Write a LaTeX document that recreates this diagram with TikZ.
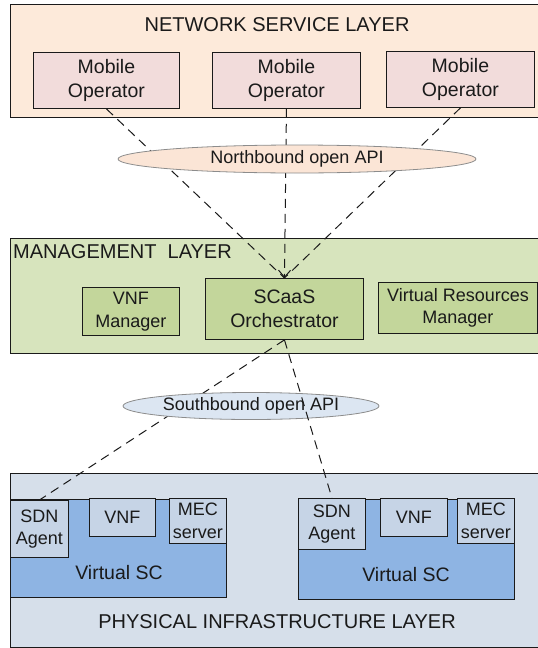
\documentclass[tikz,border=0pt]{standalone}
\usepackage{fontspec}
\setmainfont{Liberation Sans}
\usetikzlibrary{shapes.geometric,arrows.meta}
\definecolor{netfill}{HTML}{FDEADA}
\definecolor{mofill}{HTML}{F2DCDB}
\definecolor{nbfill}{HTML}{FBE5D6}
\definecolor{mgmtfill}{HTML}{D7E4BD}
\definecolor{mgmtbox}{HTML}{C3D69B}
\definecolor{sbfill}{HTML}{DCE6F2}
\definecolor{physfill}{HTML}{D6DFEA}
\definecolor{vscfill}{HTML}{8EB4E3}
\definecolor{compfill}{HTML}{C6D4E6}
\definecolor{ink}{HTML}{1A1A1A}
\begin{document}
\begin{tikzpicture}[x=1pt,y=-1pt,
  layer/.style={draw=ink, line width=1pt, anchor=north west, inner sep=0pt},
  box/.style={draw=ink, line width=0.9pt, anchor=north west, inner sep=0pt, align=center,
    font=\fontsize{18}{22.5}\selectfont, text=ink},
  bigbox/.style={box, font=\fontsize{19.5}{23.5}\selectfont},
  ltitle/.style={font=\fontsize{20}{24}\selectfont, inner sep=0pt, text=ink},
  api/.style={ellipse, draw=black!45, line width=0.8pt, inner sep=0pt,
    font=\fontsize{18}{22}\selectfont, text=ink},
  link/.style={dash pattern=on 9pt off 6pt, line width=1pt, draw=ink}]
\useasboundingbox (0,0) rectangle (538,648);
\clip (0,0) rectangle (538,648);

% layers
\node[layer, fill=netfill, minimum width=540pt, minimum height=113pt] (net) at (10,4) {};
\node[layer, fill=mgmtfill, minimum width=540pt, minimum height=115pt] (mgmt) at (10,238) {};
\node[layer, fill=physfill, minimum width=540pt, minimum height=174pt] (phys) at (10,473) {};

\node[ltitle] (nettitle) at (277,25) {NETWORK SERVICE LAYER};
\node[ltitle, anchor=west] (mgmttitle) at (13,252) {MANAGEMENT\ \ LAYER};
\node[ltitle] (phystitle) at (277,622) {PHYSICAL INFRASTRUCTURE LAYER};

% network service layer boxes
\node[bigbox, fill=mofill, minimum width=146pt, minimum height=56pt] (mo1) at (33,52) {Mobile\\Operator};
\node[bigbox, fill=mofill, minimum width=148pt, minimum height=56pt] (mo2) at (212,52) {Mobile\\Operator};
\node[bigbox, fill=mofill, minimum width=148pt, minimum height=56pt] (mo3) at (386,51) {Mobile\\Operator};

% management layer boxes
\node[box, fill=mgmtbox, minimum width=97pt, minimum height=48pt] (vnfm) at (82,287) {VNF\\Manager};
\node[bigbox, fill=mgmtbox, minimum width=158pt, minimum height=61pt] (orch) at (205,278) {SCaaS\\Orchestrator};
\node[box, fill=mgmtbox, minimum width=159pt, minimum height=51pt] (vrm) at (378,282) {Virtual Resources\\Manager};

% physical layer
\node[box, fill=vscfill, minimum width=216pt, minimum height=98pt] (vsc1) at (10,499) {};
\node[bigbox, draw=none, anchor=center] (vsc1t) at (119,573) {Virtual SC};
\node[box, fill=compfill, minimum width=58pt, minimum height=57pt] (sdn1) at (10,500) {SDN\\Agent};
\node[box, fill=compfill, minimum width=66pt, minimum height=38pt] (vnf1) at (89,498) {VNF};
\node[box, fill=compfill, minimum width=57pt, minimum height=45pt] (mec1) at (169,498) {MEC\\server};

\node[box, fill=vscfill, minimum width=216pt, minimum height=100pt] (vsc2) at (298,499) {};
\node[bigbox, draw=none, anchor=center] (vsc2t) at (406,575) {Virtual SC};
\node[box, fill=compfill, minimum width=67pt, minimum height=51pt] (sdn2) at (298,498) {SDN\\Agent};
\node[box, fill=compfill, minimum width=67pt, minimum height=38pt] (vnf2) at (380,498) {VNF};
\node[box, fill=compfill, minimum width=57pt, minimum height=45pt] (mec2) at (457,498) {MEC\\server};

% northbound links
\draw[link] (mo1.south) -- (orch.north);
\draw[link, -{Straight Barb[length=7pt,width=12pt,line width=1pt]}] (mo2.south) -- (orch.north);
\draw[link] (mo3.south) -- (orch.north);
\node[api, fill=nbfill, minimum width=358pt, minimum height=28pt] (nb) at (297,159) {Northbound open API};

% southbound links
\draw[link] (orch.south) -- (sdn1.north);
\node[api, fill=sbfill, minimum width=256pt, minimum height=27pt] (sb) at (251,406) {Southbound open API};
\draw[link] (orch.south) -- (sdn2.north);
\end{tikzpicture}
\end{document}
